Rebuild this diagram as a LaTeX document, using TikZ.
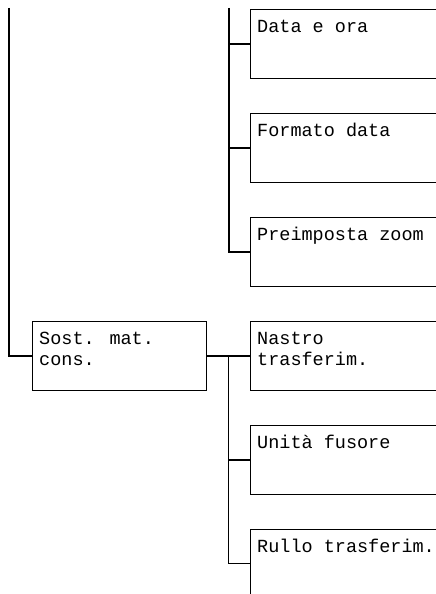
\documentclass[tikz,border=0pt]{standalone}
\usepackage{fontspec}
\setmainfont{Liberation Mono}
\usetikzlibrary{positioning,calc}
\tikzset{
  menubox/.style={
    draw,line width=1.4pt,inner sep=0pt,
    minimum width=200pt,minimum height=69pt
  },
  menutext/.style={
    anchor=base west,align=left,inner sep=0pt,
    font=\fontsize{18.5}{21}\selectfont
  },
  link/.style={line width=1.4pt}
}
\begin{document}
\begin{tikzpicture}[x=1pt,y=-1pt,node distance=33.5pt and 42.6pt]
      \useasboundingbox (0,0) rectangle (436,594);
      \clip (0,0) rectangle (436,594);
      % right column
      \node[menubox,anchor=north west] (ora) at (250,9) {};
      \node[menubox,below=of ora] (formato) {};
      \node[menubox,below=of formato] (zoom) {};
      \node[menubox,below=of zoom] (nastro) {};
      \node[menubox,below=of nastro] (fusore) {};
      \node[menubox,below=of fusore] (rullo) {};
      % left box
      \node[menubox,minimum width=174pt,left=of nastro] (sost) {};

      \node[menutext] (ora-t) at ([shift={(7,24)}]ora.north west) {Data e ora};
      \node[menutext] (formato-t) at ([shift={(7,24)}]formato.north west) {Formato data};
      \node[menutext] (zoom-t) at ([shift={(7,24)}]zoom.north west) {Preimposta zoom};
      \node[menutext] (nastro-t) at ([shift={(7,45)}]nastro.north west) {Nastro\\trasferim.};
      \node[menutext] (fusore-t) at ([shift={(7,24)}]fusore.north west) {Unità fusore};
      \node[menutext] (rullo-t) at ([shift={(7,24)}]rullo.north west) {Rullo trasferim.};
      \node[menutext] (sost-t) at ([shift={(7,45)}]sost.north west) {Sost. mat.\\cons.};

      % connectors
      \coordinate (trunk) at (9,8);
      \coordinate (bus) at (229,8);
      \coordinate (bus2) at ($(sost.east)!0.5!(nastro.west)$);
      \draw[link] (trunk) |- (sost.west);
      \draw[link] (bus) |- (zoom.west);
      \draw[link] (bus |- ora.west) -- (ora.west);
      \draw[link] (bus |- formato.west) -- (formato.west);
      \draw[link] (sost.east) -- (nastro.west);
      \draw[link] (bus2) |- (rullo.west);
      \draw[link] (bus2 |- fusore.west) -- (fusore.west);
    \end{tikzpicture}
\end{document}
